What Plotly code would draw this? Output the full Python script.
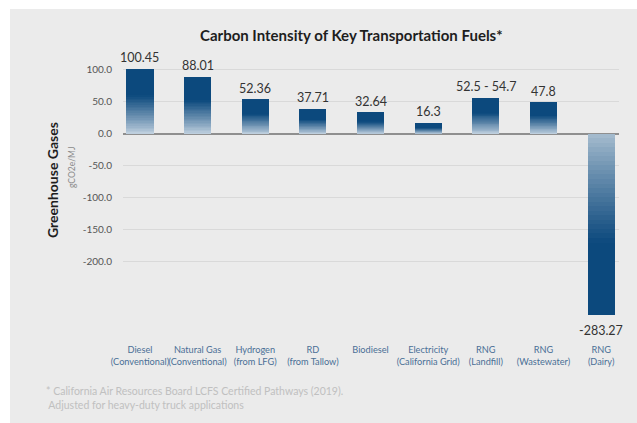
import plotly.graph_objects as go

# ---------------- data ----------------
categories = ["Diesel<br>(Conventional)", "Natural Gas<br>(Conventional)", "Hydrogen<br>(from LFG)",
              "RD<br>(from Tallow)", "Biodiesel", "Electricity<br>(California Grid)",
              "RNG<br>(Landfill)", "RNG<br>(Wastewater)", "RNG<br>(Dairy)"]
values = [100.45, 88.01, 52.36, 37.71, 32.64, 16.3, 54.7, 47.8, -283.27]
value_labels = ["100.45", "88.01", "52.36", "37.71", "32.64", "16.3", "52.5 - 54.7", "47.8", "-283.27"]
y_ticks = [100, 50, 0, -50, -100, -150, -200]
y_ticktext = ["100.0", "50.0", "0.0", "-50.0", "-100.0", "-150.0", "-200.0"]

# ---------------- layout geometry ----------------
W, H = 637, 423
L, R, T, B = 123, 18, 63, 107
PW, PH = W - L - R, H - T - B


def px2x(px):
    return (px - L) / PW


def py2y(py):
    return 1 - (py - T) / PH


DARK = (12, 73, 125)
LIGHT_POS = (196, 211, 225)
LIGHT_NEG = (168, 190, 208)


def mix(c1, c2, t):
    return "rgb(%d,%d,%d)" % tuple(round(a + (b - a) * t) for a, b in zip(c1, c2))


def grad_color(f, neg=False):
    light = LIGHT_NEG if neg else LIGHT_POS
    edge = 0.6
    if f >= edge:
        return mix(light, DARK, 1.0)
    t = f / edge
    return mix(light, DARK, t ** 0.9)


N = 40
fig = go.Figure()
xs = list(range(len(categories)))
for k in range(N):
    f = (k + 0.5) / N
    bases = [v * k / N for v in values]
    heights = [v / N * 1.02 if k < N - 1 else v / N for v in values]
    colors = [grad_color(f, v < 0) for v in values]
    fig.add_trace(go.Bar(
        x=xs, y=heights, base=bases, width=0.47,
        marker=dict(color=colors, line=dict(width=0)),
        hoverinfo="skip", showlegend=False,
    ))

# value labels
annotations = []
for x, v, lab in zip(xs, values, value_labels):
    annotations.append(dict(
        x=x, y=v, xref="x", yref="y", text=lab, showarrow=False,
        yanchor="bottom" if v >= 0 else "top", yshift=2 if v >= 0 else -6,
        font=dict(family="Lato", size=12.5, color="#333333"),
    ))

# title
annotations.append(dict(
    x=px2x(351), y=py2y(35), xref="paper", yref="paper",
    text="<b>Carbon Intensity of Key Transportation Fuels*</b>", showarrow=False,
    xanchor="center", yanchor="middle",
    font=dict(family="Lato", size=15, color="#1e1e1e"),
))
# y axis title
annotations.append(dict(
    x=px2x(52), y=py2y(180), xref="paper", yref="paper",
    text="<b>Greenhouse Gases</b>", showarrow=False, textangle=-90,
    xanchor="center", yanchor="middle",
    font=dict(family="Lato", size=14, color="#1e1e1e"),
))
annotations.append(dict(
    x=px2x(72), y=py2y(168), xref="paper", yref="paper",
    text="gCO2e/MJ", showarrow=False, textangle=-90,
    xanchor="center", yanchor="middle",
    font=dict(family="Lato", size=8.5, color="#8a8a8a"),
))
# footnote
annotations.append(dict(
    x=px2x(44), y=py2y(398), xref="paper", yref="paper",
    text="* California Air Resources Board LCFS Certified Pathways (2019).<br> Adjusted for heavy-duty truck applications",
    showarrow=False, xanchor="left", yanchor="middle", align="left",
    font=dict(family="Lato", size=10.5, color="#c0c0c0"),
))

fig.update_layout(
    width=W, height=H,
    margin=dict(l=L, r=R, t=T, b=B, pad=0),
    paper_bgcolor="white", plot_bgcolor="#ebebeb",
    barmode="overlay", bargap=0,
    annotations=annotations,
    shapes=[dict(type="rect", xref="paper", yref="paper", layer="below",
                 x0=px2x(10), x1=px2x(637), y0=py2y(423), y1=py2y(9),
                 fillcolor="#ebebeb", line=dict(width=0))],
    showlegend=False,
)
fig.update_xaxes(
    range=[-0.294, 8.31], tickvals=xs, ticktext=categories, tickangle=0,
    showgrid=False, zeroline=False, showline=False, ticks="",
    tickfont=dict(family="Lato", size=9.2, color="#4a6f96"),
    ticklabelstandoff=27,
)
fig.update_yaxes(
    range=[-284.5, 110], tickvals=y_ticks, ticktext=y_ticktext,
    showgrid=True, gridcolor="#d9d9d9", gridwidth=1,
    zeroline=True, zerolinecolor="#8f8f8f", zerolinewidth=2,
    showline=False, ticks="",
    tickfont=dict(family="Lato", size=10, color="#555555"),
    ticklabelstandoff=10,
)

fig.write_html("out.html")
